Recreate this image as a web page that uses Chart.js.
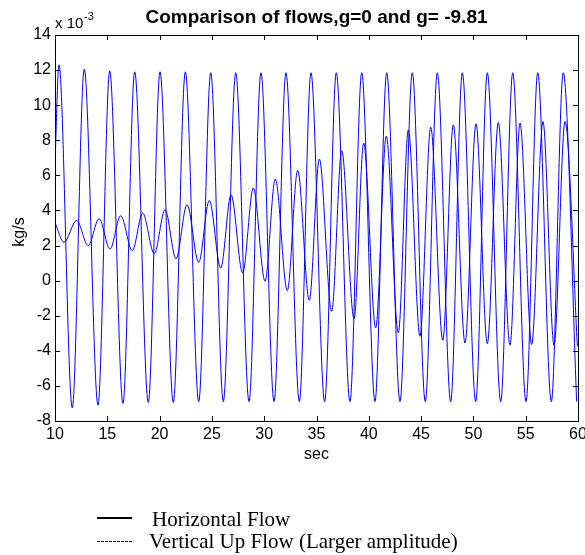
<!DOCTYPE html>
<html>
<head>
<meta charset="utf-8">
<script src="https://cdn.jsdelivr.net/npm/chart.js@4.4.1/dist/chart.umd.min.js"></script>
<style>
  body { margin: 0; background: #fff; }
  #wrap { width: 585px; height: 555px; }
</style>
</head>
<body>
<div id="wrap"><canvas id="chart" width="585" height="555"></canvas></div>
<script>
const titleText = "Comparison of flows,g=0 and g= -9.81"
const xLabel = "sec"
const yLabel = "kg/s"
const legendLabels = ["Horizontal Flow", "Vertical Up Flow (Larger amplitude)"]

// large oscillation: peaks and troughs (x 1e-3 kg/s)
const largeTime = [10.00, 10.38, 11.65, 12.80, 14.11, 15.23, 16.50, 17.62, 18.92, 20.04,
  21.31, 22.46, 23.74, 24.89, 26.09, 27.28, 28.55, 29.69, 30.94, 32.08,
  33.36, 34.47, 35.78, 36.89, 38.20, 39.32, 40.59, 41.71, 42.98, 44.16,
  45.40, 46.55, 47.83, 48.94, 50.22, 51.33, 52.61, 53.76, 55.03, 56.15,
  57.45, 58.59, 59.87]
const largeFlow = [6.7, 12.3, -7.25, 12.05, -7.1, 11.95, -7.0, 11.9, -6.95, 11.9,
  -6.95, 11.9, -6.9, 11.85, -6.9, 11.85, -6.9, 11.85, -6.9, 11.85,
  -6.9, 11.85, -6.9, 11.85, -6.9, 11.85, -6.9, 11.85, -6.9, 11.85,
  -6.9, 11.85, -6.9, 11.85, -6.9, 11.85, -6.9, 11.85, -6.9, 11.85,
  -6.9, 11.85, -6.9]

// growing oscillation
const smallTime = [10.00, 10.86, 12.07, 13.18, 14.21, 15.26, 16.28, 17.39, 18.38, 19.49,
  20.52, 21.57, 22.62, 23.74, 24.75, 25.84, 26.83, 27.94, 28.96, 30.08,
  31.06, 32.21, 33.20, 34.31, 35.27, 36.45, 37.41, 38.59, 39.51, 40.66,
  41.67, 42.82, 43.78, 44.89, 45.92, 47.07, 48.08, 49.20, 50.25, 51.33,
  52.38, 53.50, 54.46, 55.57, 56.65, 57.71, 58.76, 59.94]
const smallFlow = [3.32, 2.18, 3.43, 1.99, 3.53, 1.80, 3.70, 1.71, 3.85, 1.54,
  4.04, 1.25, 4.33, 1.04, 4.57, 0.72, 4.89, 0.44, 5.28, -0.04,
  5.79, -0.57, 6.28, -1.12, 6.93, -1.75, 7.40, -2.18, 7.84, -2.69,
  8.24, -2.98, 8.59, -3.17, 8.75, -3.40, 8.88, -3.55, 8.94, -3.59,
  9.01, -3.68, 8.98, -3.64, 9.07, -3.68, 9.07, -3.74]

const SANS = "'Liberation Sans', Arial, sans-serif"
const SERIF = "'Liberation Serif', 'Times New Roman', serif"

Chart.defaults.font.family = SANS
Chart.defaults.color = "#000"

const toPoints = (xs, ys) => xs.map((x, i) => ({ x: x, y: ys[i] }))

// box, inward ticks and all free text
const framePlugin = {
  id: "frame",
  afterDraw(chart) {
    const ctx = chart.ctx
    const a = chart.chartArea
    const xs = chart.scales.x, ys = chart.scales.y
    ctx.save()
    ctx.strokeStyle = "#000"
    ctx.lineWidth = 1
    ctx.strokeRect(a.left + 0.5, a.top + 0.5, a.right - a.left, a.bottom - a.top)
    ctx.beginPath()
    xs.ticks.forEach(t => {
      const px = Math.round(xs.getPixelForValue(t.value)) + 0.5
      ctx.moveTo(px, a.bottom); ctx.lineTo(px, a.bottom - 5)
      ctx.moveTo(px, a.top); ctx.lineTo(px, a.top + 5)
    })
    ys.ticks.forEach(t => {
      const py = Math.round(ys.getPixelForValue(t.value)) + 0.5
      ctx.moveTo(a.left, py); ctx.lineTo(a.left + 5, py)
      ctx.moveTo(a.right, py); ctx.lineTo(a.right - 5, py)
    })
    ctx.stroke()

    ctx.fillStyle = "#000"
    ctx.textBaseline = "alphabetic"
    ctx.textAlign = "center"
    ctx.font = "bold 19px " + SANS
    ctx.fillText(titleText, (a.left + a.right) / 2, 23)

    ctx.font = "16px " + SANS
    ctx.fillText(xLabel, (a.left + a.right) / 2, 459)

    ctx.save()
    ctx.translate(24, (a.top + a.bottom) / 2 + 4)
    ctx.rotate(-Math.PI / 2)
    ctx.fillText(yLabel, 0, 0)
    ctx.restore()

    ctx.textAlign = "left"
    ctx.font = "15px " + SANS
    ctx.fillText("x 10", a.left, 28)
    ctx.font = "11px " + SANS
    ctx.fillText("-3", a.left + 29, 20)

    // legend
    ctx.lineWidth = 2
    ctx.beginPath()
    ctx.moveTo(97, 518); ctx.lineTo(132, 518)
    ctx.stroke()
    ctx.lineWidth = 1
    ctx.setLineDash([3, 1])
    ctx.beginPath()
    ctx.moveTo(97, 541.5); ctx.lineTo(133, 541.5)
    ctx.stroke()
    ctx.setLineDash([])
    ctx.font = "21px " + SERIF
    ctx.fillText(legendLabels[0], 152, 526)
    ctx.fillText(legendLabels[1], 149, 548)
    ctx.restore()
  }
}

new Chart(document.getElementById("chart"), {
  type: "line",
  data: {
    datasets: [
      {
        label: legendLabels[1],
        data: toPoints(largeTime, largeFlow),
        borderColor: "#0000ff",
        borderWidth: 1,
        pointRadius: 0,
        cubicInterpolationMode: "monotone"
      },
      {
        label: legendLabels[0],
        data: toPoints(smallTime, smallFlow),
        borderColor: "#0000ff",
        borderWidth: 1,
        pointRadius: 0,
        cubicInterpolationMode: "monotone"
      }
    ]
  },
  options: {
    responsive: false,
    animation: false,
    layout: { padding: { left: 0, right: 7, top: 35, bottom: 94 } },
    plugins: { legend: { display: false }, tooltip: { enabled: false } },
    scales: {
      x: {
        type: "linear",
        min: 10,
        max: 60,
        grid: { display: false, drawTicks: false },
        border: { display: false },
        ticks: { stepSize: 5, padding: 4, font: { size: 16 }, maxRotation: 0 },
        afterFit(scale) { scale.height = 40; scale.paddingLeft = 0; scale.paddingRight = 0 }
      },
      y: {
        min: -8,
        max: 14,
        grid: { display: false, drawTicks: false },
        border: { display: false },
        ticks: { stepSize: 2, padding: 4, font: { size: 16 } },
        afterFit(scale) { scale.width = 55; scale.paddingTop = 0; scale.paddingBottom = 0 }
      }
    }
  },
  plugins: [framePlugin]
})
</script>
</body>
</html>
